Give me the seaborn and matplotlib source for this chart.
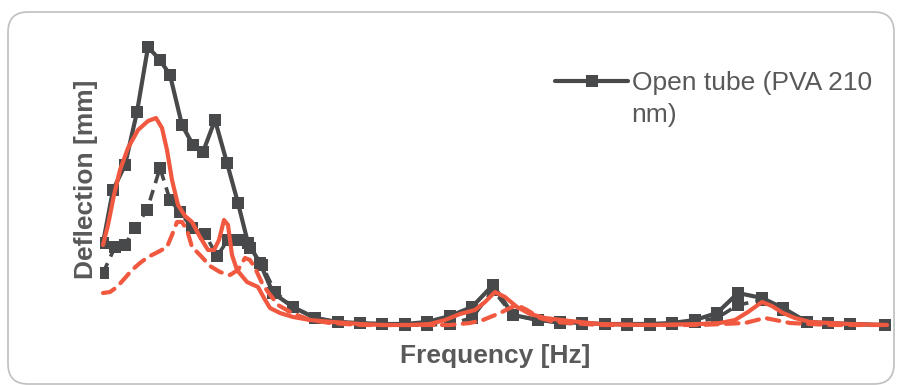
import numpy as np
import pandas as pd
import seaborn as sns
import matplotlib.pyplot as plt
from matplotlib.patches import FancyBboxPatch

# Values (frequency in Hz, deflection in mm)
open_freq = [0, 10, 22, 34, 45, 57, 67, 79, 90, 100, 112, 124, 135, 145, 157, 170, 190,
             212, 235, 257, 279, 302, 324, 347, 369, 390, 410, 435, 457, 479, 502, 524,
             547, 569, 592, 614, 635, 659, 680, 704, 725, 747, 782]
open_defl = [0.92, 1.45, 1.70, 2.23, 2.88, 2.75, 2.60, 2.10, 1.90, 1.83, 2.15, 1.72, 1.32,
             0.92, 0.72, 0.42, 0.28, 0.17, 0.13, 0.12, 0.11, 0.11, 0.13, 0.19, 0.28, 0.50,
             0.20, 0.15, 0.13, 0.12, 0.11, 0.11, 0.11, 0.12, 0.15, 0.22, 0.42, 0.37, 0.27,
             0.13, 0.12, 0.11, 0.10]

closed_freq = [0, 12, 22, 32, 44, 57, 67, 77, 89, 102, 114, 125, 137, 147, 159, 172, 190,
               212, 235, 257, 279, 302, 324, 347, 369, 390, 410, 435, 457, 479, 502, 524,
               547, 569, 592, 614, 635, 659, 680, 704, 725, 747, 782]
closed_defl = [0.62, 0.88, 0.90, 1.07, 1.25, 1.67, 1.35, 1.23, 1.07, 1.01, 0.79, 0.95, 0.95,
               0.87, 0.70, 0.43, 0.28, 0.17, 0.13, 0.12, 0.11, 0.10, 0.10, 0.11, 0.17, 0.45,
               0.20, 0.15, 0.12, 0.11, 0.11, 0.10, 0.10, 0.11, 0.13, 0.17, 0.30, 0.35, 0.25,
               0.13, 0.12, 0.11, 0.10]

model_freq = [0, 5, 11, 17, 25, 35, 45, 53, 59, 64, 69, 75, 82, 89, 97, 105, 111, 116, 121,
              125, 129, 134, 144, 155, 161, 167, 177, 190, 207, 230, 257, 280, 307, 327, 342,
              357, 372, 382, 392, 402, 414, 427, 442, 467, 497, 547, 597, 617, 632, 645,
              659, 669, 680, 692, 707, 747, 784]
model_defl = [0.90, 1.10, 1.40, 1.65, 1.87, 2.05, 2.14, 2.17, 2.07, 1.85, 1.55, 1.30, 1.19,
              1.13, 0.98, 0.85, 0.85, 0.95, 1.15, 1.10, 0.80, 0.65, 0.53, 0.48, 0.37, 0.27,
              0.22, 0.18, 0.15, 0.13, 0.11, 0.10, 0.10, 0.11, 0.15, 0.21, 0.25, 0.33, 0.43,
              0.38, 0.28, 0.21, 0.17, 0.14, 0.11, 0.10, 0.11, 0.12, 0.15, 0.23, 0.33, 0.29,
              0.22, 0.17, 0.13, 0.11, 0.10]

model2_freq = [0, 7, 14, 22, 29, 37, 45, 55, 64, 69, 74, 79, 84, 89, 97, 107, 117, 127, 135,
               142, 147, 152, 159, 165, 175, 189, 207, 227, 257, 297, 347, 367, 380, 397, 407,
               414, 424, 437, 452, 497, 597, 642, 654, 662, 672, 687, 727, 784]
model2_defl = [0.42, 0.43, 0.48, 0.57, 0.65, 0.72, 0.78, 0.83, 0.88, 1.00, 1.13, 1.13, 1.05,
               0.88, 0.80, 0.69, 0.63, 0.60, 0.65, 0.77, 0.75, 0.67, 0.52, 0.43, 0.30, 0.22,
               0.15, 0.12, 0.10, 0.10, 0.10, 0.12, 0.15, 0.22, 0.27, 0.30, 0.25, 0.17, 0.13,
               0.10, 0.10, 0.12, 0.15, 0.17, 0.15, 0.12, 0.10, 0.10]

legend_label = "Open tube (PVA 210"
legend_label_rest = "nm)"

grey = "#48494b"
red = "#f0583f"
text_grey = "#595959"

sns.set_style("white")
plt.rcParams['font.family'] = ['Liberation Sans', 'DejaVu Sans']

fig = plt.figure(figsize=(8.97, 3.85), dpi=100)
ax = fig.add_axes([100 / 897, 50 / 385, 790 / 897, 300 / 385])

sns.lineplot(x=closed_freq, y=closed_defl, ax=ax, color=grey, lw=2.6, sort=False,
             estimator=None, marker="s", markersize=8, markeredgewidth=0,
             linestyle=(0, (3, 2)))
sns.lineplot(x=open_freq, y=open_defl, ax=ax, color=grey, lw=3, sort=False,
             estimator=None, marker="s", markersize=8, markeredgewidth=0,
             label=legend_label)
sns.lineplot(x=model2_freq, y=model2_defl, ax=ax, color=red, lw=3, sort=False,
             estimator=None, linestyle=(0, (3, 2)), solid_capstyle="round",
             dash_capstyle="round")
sns.lineplot(x=model_freq, y=model_defl, ax=ax, color=red, lw=3, sort=False,
             estimator=None, solid_capstyle="round")

ax.set_xlim(-3, 787)
ax.set_ylim(0, 3)
ax.set_xticks([])
ax.set_yticks([])
sns.despine(ax=ax, left=True, bottom=True)
ax.set_xlabel("Frequency [Hz]", fontsize=19, fontweight="bold", color=text_grey)
ax.set_ylabel("Deflection [mm]", fontsize=19, fontweight="bold", color=text_grey)
ax.xaxis.set_label_coords(0.5, -0.03)
ax.yaxis.set_label_coords(-0.002, 0.52)

handles, labels = ax.get_legend_handles_labels()
leg = ax.legend(handles[:1], labels[:1], loc="center left", bbox_to_anchor=(0.576, 0.84),
                frameon=False, fontsize=19, handlelength=2.77, handletextpad=0.15,
                labelcolor=text_grey, borderpad=0, borderaxespad=0)
ax.text(0.673, 0.733, legend_label_rest, transform=ax.transAxes, fontsize=19,
        color=text_grey, va="center", ha="left")

border = FancyBboxPatch((8, 1), 886, 372, boxstyle="round,pad=0,rounding_size=20",
                        transform=None, fill=False, edgecolor="#bfbfbf", lw=1.2)
fig.patches.append(border)

fig.savefig("out.png", dpi=100)
